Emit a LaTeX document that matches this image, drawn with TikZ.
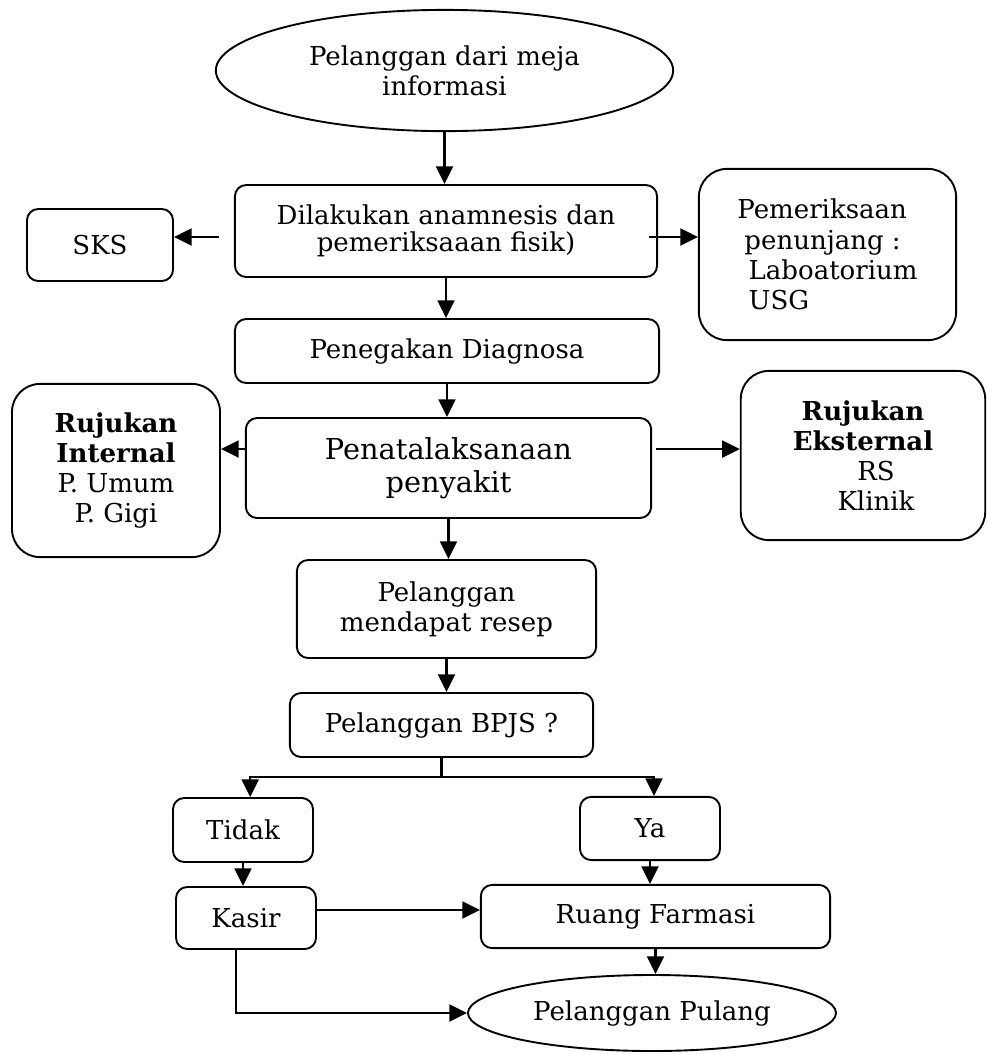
\documentclass[tikz,border=0pt]{standalone}
\usepackage{fontspec}
\setmainfont{DejaVu Serif}
\usetikzlibrary{positioning,arrows.meta,calc,shapes.geometric}

\begin{document}
\begin{tikzpicture}[x=0.025cm, y=-0.025cm,
    box/.style={draw, line width=1.35pt, rounded corners=8pt, align=center, inner sep=2pt, font=\fontsize{18.5}{21.5}\selectfont},
    bigbox/.style={box, rounded corners=20pt},
    oval/.style={draw, ellipse, line width=1.35pt, align=center, inner sep=0pt, font=\fontsize{18.5}{21.5}\selectfont},
    arr/.style={-{Triangle[length=12.5pt,width=12pt]}, line width=1.6pt}]
  \useasboundingbox (0,0) rectangle (987,1055);

  % main column
  \node[oval, minimum width=11.43cm, minimum height=3.03cm] (start) at (444.5,70.5) {Pelanggan dari meja\\informasi};
  \node[box, minimum width=10.55cm, minimum height=2.3cm, font=\fontsize{18.5}{19.5}\selectfont] (anamnesis) at (446,231) {Dilakukan anamnesis dan\\pemeriksaaan fisik)};
  \node[box, minimum width=10.6cm, minimum height=1.6cm] (diagnosa) at (447,351) {Penegakan Diagnosa};
  \node[box, minimum width=10.13cm, minimum height=2.5cm, font=\fontsize{20.5}{23.5}\selectfont] (tatalaksana) at (448.5,468) {Penatalaksanaan\\penyakit};
  \node[box, minimum width=7.48cm, minimum height=2.45cm] (resep) at (446.5,609) {Pelanggan\\mendapat resep};
  \node[box, minimum width=7.58cm, minimum height=1.6cm] (bpjs) at (441.5,725) {Pelanggan BPJS ?};

  % side boxes
  \node[box, minimum width=3.65cm, minimum height=1.8cm] (sks) at (100,245) {SKS};
  \node[bigbox, minimum width=6.43cm, minimum height=4.28cm, align=left] (penunjang) at (827.5,254.5) {Pemeriksaan\\\hspace*{5pt}penunjang :\\\hspace*{8pt}Laboatorium\\\hspace*{8pt}USG};
  \node[bigbox, minimum width=5.2cm, minimum height=4.33cm] (internal) at (116,470.5) {\textbf{Rujukan}\\\textbf{Internal}\\P. Umum\\P. Gigi};
  \node[bigbox, minimum width=6.11cm, minimum height=4.23cm] (eksternal) at (863,455.5) {\textbf{Rujukan}\\\textbf{Eksternal}\\\hspace*{1em}RS\\\hspace*{1em}Klinik};

  % bottom part
  \node[box, minimum width=3.5cm, minimum height=1.6cm] (tidak) at (243,830) {Tidak};
  \node[box, minimum width=3.5cm, minimum height=1.58cm] (ya) at (650,828.5) {Ya};
  \node[box, minimum width=3.5cm, minimum height=1.55cm] (kasir) at (246,918) {Kasir};
  \node[box, minimum width=8.73cm, minimum height=1.58cm] (farmasi) at (655.5,916.5) {Ruang Farmasi};
  \node[oval, minimum width=9.2cm, minimum height=1.9cm] (pulang) at (652,1013) {Pelanggan Pulang};

  % arrows
  \draw[arr] (start.south) -- (start.south |- anamnesis.north);
  \draw[arr] ($(anamnesis.west)+(-15,6)$) -- ($(anamnesis.west -| sks.east)+(0,6)$);
  \draw[arr] ($(anamnesis.east)+(-9,6)$) -- ($(anamnesis.east -| penunjang.west)+(0,6)$);
  \draw[arr] (anamnesis.south) -- (anamnesis.south |- diagnosa.north);
  \draw[arr] (diagnosa.south) -- (diagnosa.south |- tatalaksana.north);
  \draw[arr] ($(tatalaksana.west)+(0,-19)$) -- ($(tatalaksana.west -| internal.east)+(0,-19)$);
  \draw[arr] ($(tatalaksana.east)+(4,-19)$) -- ($(tatalaksana.east -| eksternal.west)+(0,-19)$);
  \draw[arr] (tatalaksana.south) -- (tatalaksana.south |- resep.north);
  \draw[arr] (resep.south) -- (resep.south |- bpjs.north);
  \coordinate (split) at ($(bpjs.south)+(0,19)$);
  \draw[line width=1.6pt] (bpjs.south) -- (split);
  \draw[arr] (split) -| ([xshift=0.18cm]tidak.north);
  \draw[arr] (split) -| ([xshift=0.1cm]ya.north);
  \draw[arr] (tidak.south) -- (tidak.south |- kasir.north);
  \draw[arr] (ya.south) -- (ya.south |- farmasi.north);
  \draw[arr] ($(kasir.east)+(0,-8)$) -- ($(kasir.east -| farmasi.west)+(0,-8)$);
  \draw[arr] (farmasi.south) -- (farmasi.south |- pulang.north);
  \draw[arr] ([xshift=-0.25cm]kasir.south) |- (pulang.west);
\end{tikzpicture}
\end{document}
